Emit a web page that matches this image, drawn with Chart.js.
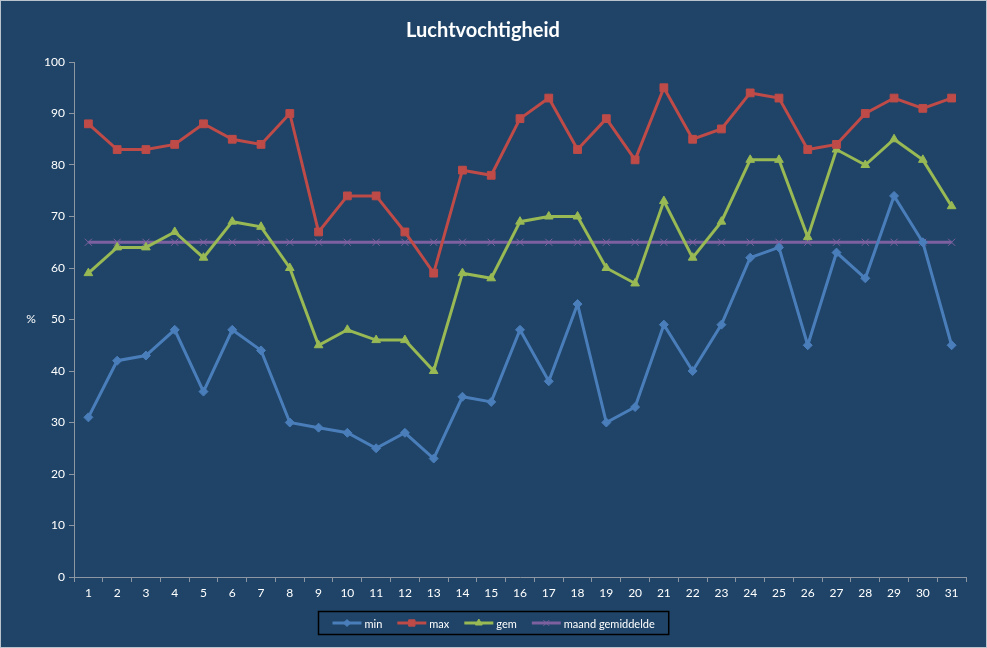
<!DOCTYPE html>
<html>
<head>
<meta charset="utf-8">
<title>Luchtvochtigheid</title>
<script src="https://cdn.jsdelivr.net/npm/chart.js@4.4.0/dist/chart.umd.min.js"></script>
<style>
    html, body { margin: 0; padding: 0; background: #1F4467; }
    #wrap { width: 987px; height: 648px; }
</style>
</head>
<body>
<div id="wrap"><canvas id="vochtChart" width="987" height="648"></canvas></div>
<script>
// dagen van de maand
const dagen = ['1', '2', '3', '4', '5', '6', '7', '8', '9', '10', '11', '12', '13', '14', '15', '16',
    '17', '18', '19', '20', '21', '22', '23', '24', '25', '26', '27', '28', '29', '30', '31'];

// waarden (%)
const minWaarden = [31, 42, 43, 48, 36, 48, 44, 30, 29, 28, 25, 28, 23, 35, 34, 48,
    38, 53, 30, 33, 49, 40, 49, 62, 64, 45, 63, 58, 74, 65, 45];
const maxWaarden = [88, 83, 83, 84, 88, 85, 84, 90, 67, 74, 74, 67, 59, 79, 78, 89,
    93, 83, 89, 81, 95, 85, 87, 94, 93, 83, 84, 90, 93, 91, 93];
const gemWaarden = [59, 64, 64, 67, 62, 69, 68, 60, 45, 48, 46, 46, 40, 59, 58, 69,
    70, 70, 60, 57, 73, 62, 69, 81, 81, 66, 83, 80, 85, 81, 72];
const maandGem = [65, 65, 65, 65, 65, 65, 65, 65, 65, 65, 65, 65, 65, 65, 65, 65,
    65, 65, 65, 65, 65, 65, 65, 65, 65, 65, 65, 65, 65, 65, 65];

const yTicks = [0, 10, 20, 30, 40, 50, 60, 70, 80, 90, 100];

const fontNaam = 'Lato, "Open Sans", sans-serif';
const asKleur = '#8C97A3';

// achtergrond, rand en de "%" as-titel (Excel zet die rechtop)
const achtergrond = {
    id: 'achtergrond',
    beforeDraw(chart) {
        const c = chart.ctx;
        c.save();
        c.fillStyle = '#1F4467';
        c.fillRect(0, 0, chart.width, chart.height);
        c.strokeStyle = '#B9C3CE';
        c.lineWidth = 1;
        c.strokeRect(0.5, 0.5, chart.width - 1, chart.height - 1);
        const y = chart.scales.y;
        c.fillStyle = '#FFFFFF';
        c.font = '12px ' + fontNaam;
        c.textAlign = 'center';
        c.textBaseline = 'middle';
        c.fillText('%', 31, (y.top + y.bottom) / 2);
        c.restore();
    }
};

// legenda in Excel-stijl met kader
const legendaKader = {
    id: 'legendaKader',
    afterDraw(chart) {
        const c = chart.ctx;
        const sets = chart.data.datasets;
        c.save();
        c.font = '11px ' + fontNaam;
        const lijnLengte = 29, tussen = 3, gat = 15, rand = 14;
        let totaal = rand * 2 - gat;
        sets.forEach(ds => { totaal += lijnLengte + tussen + c.measureText(ds.label).width + gat; });
        const boxX = Math.round(493 - totaal / 2) + 0.5;
        const boxY = 611.5, boxH = 23;
        c.strokeStyle = '#000000';
        c.lineWidth = 1.5;
        c.strokeRect(boxX, boxY, totaal, boxH);
        let x = boxX + rand;
        const y = boxY + boxH / 2;
        sets.forEach(ds => {
            c.strokeStyle = ds.borderColor;
            c.lineWidth = 3;
            c.beginPath();
            c.moveTo(x, y);
            c.lineTo(x + lijnLengte, y);
            c.stroke();
            c.fillStyle = ds.borderColor;
            c.lineWidth = 1;
            Chart.helpers.drawPoint(c, {
                pointStyle: ds.pointStyle,
                radius: ds.pointRadius - 1,
                borderWidth: 1
            }, x + lijnLengte / 2, y);
            x += lijnLengte + tussen;
            c.fillStyle = '#FFFFFF';
            c.textBaseline = 'middle';
            c.textAlign = 'left';
            c.fillText(ds.label, x, y + 1);
            x += c.measureText(ds.label).width + gat;
        });
        c.restore();
    }
};

function reeks(label, waarden, kleur, stijl, straal) {
    return {
        label: label,
        data: waarden,
        borderColor: kleur,
        backgroundColor: kleur,
        pointBackgroundColor: kleur,
        pointBorderColor: kleur,
        borderWidth: 3,
        pointStyle: stijl,
        pointRadius: straal,
        pointHoverRadius: straal,
        pointBorderWidth: 1,
        tension: 0
    };
}

const data = {
    labels: dagen,
    datasets: [
        reeks('min', minWaarden, '#4A7EBB', 'rectRot', 4.5),
        reeks('max', maxWaarden, '#BE4B48', 'rect', 5.5),
        reeks('gem', gemWaarden, '#98B954', 'triangle', 5),
        reeks('maand gemiddelde', maandGem, '#7D60A0', 'crossRot', 5)
    ]
};

const config = {
    type: 'line',
    data: data,
    options: {
        responsive: false,
        animation: false,
        layout: { padding: { left: 0, right: 21, top: 0, bottom: 43 } },
        plugins: {
            legend: { display: false },
            tooltip: { enabled: false },
            title: {
                display: true,
                text: 'Luchtvochtigheid',
                color: '#FFFFFF',
                font: { family: fontNaam, size: 20, weight: 'bold' },
                padding: { top: 19, bottom: 19 }
            }
        },
        scales: {
            x: {
                offset: true,
                grid: {
                    offset: true,
                    drawOnChartArea: false,
                    drawTicks: true,
                    tickLength: 5,
                    color: asKleur
                },
                border: { display: true, color: asKleur, width: 1 },
                ticks: {
                    color: '#FFFFFF',
                    font: { family: fontNaam, size: 12 },
                    padding: 4,
                    maxRotation: 0,
                    autoSkip: false
                },
                afterFit(scale) { scale.height = 28; }
            },
            y: {
                min: 0,
                max: 100,
                afterBuildTicks(scale) { scale.ticks = yTicks.map(v => ({ value: v })); },
                grid: {
                    drawOnChartArea: false,
                    drawTicks: true,
                    tickLength: 5,
                    color: asKleur
                },
                border: { display: true, color: asKleur, width: 1 },
                ticks: {
                    color: '#FFFFFF',
                    font: { family: fontNaam, size: 12 },
                    padding: 4
                },
                afterFit(scale) { scale.width = 74; }
            }
        }
    },
    plugins: [achtergrond, legendaKader]
};

new Chart(document.getElementById('vochtChart').getContext('2d'), config);
</script>
</body>
</html>
